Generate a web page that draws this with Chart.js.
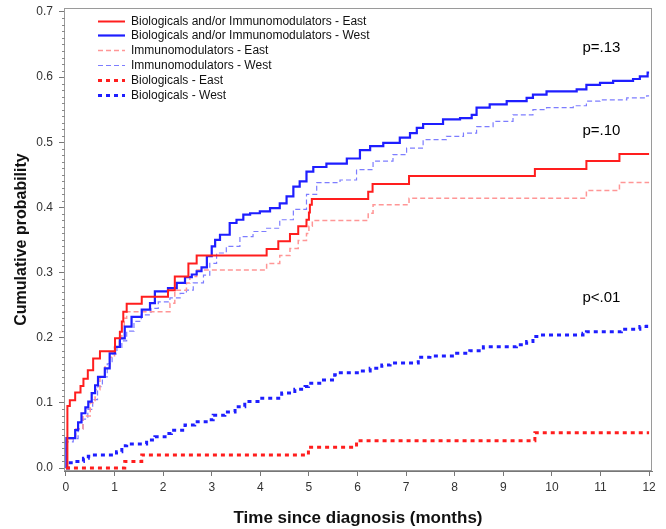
<!DOCTYPE html>
<html>
<head>
<meta charset="utf-8">
<script src="https://cdn.jsdelivr.net/npm/chart.js@4/dist/chart.umd.min.js"></script>
<style>
  html, body { margin: 0; padding: 0; background: #fff; }
  #wrap { width: 666px; height: 529px; }
</style>
</head>
<body>
<div id="wrap"><canvas id="cumChart"></canvas></div>
<script>
// Cumulative probability of treatment start, by months since diagnosis
const xTicks = [0, 1, 2, 3, 4, 5, 6, 7, 8, 9, 10, 11, 12];
const yTicks = [0, 0.1, 0.2, 0.3, 0.4, 0.5, 0.6, 0.7];

// Biologicals and/or Immunomodulators - East
const bioImmEastT = [0, 0.03, 0.08, 0.19, 0.3, 0.36, 0.45, 0.56, 0.7, 1.01, 1.11, 1.15, 1.18, 1.25, 1.56, 2.1, 2.24, 2.52, 2.69, 4.13, 4.37, 4.61, 4.78, 4.95, 5.0, 5.02, 5.06, 6.22, 6.31, 7.06, 9.65, 10.71, 11.39, 12];
const bioImmEastP = [0, 0.095, 0.104, 0.116, 0.126, 0.137, 0.15, 0.168, 0.179, 0.199, 0.209, 0.225, 0.24, 0.252, 0.263, 0.273, 0.294, 0.314, 0.326, 0.336, 0.348, 0.359, 0.371, 0.381, 0.392, 0.404, 0.413, 0.424, 0.436, 0.448, 0.459, 0.471, 0.482, 0.482];

// Biologicals and/or Immunomodulators - West
const bioImmWestT = [0, 0.01, 0.12, 0.19, 0.25, 0.32, 0.4, 0.46, 0.53, 0.6, 0.66, 0.8, 0.9, 1.01, 1.11, 1.21, 1.35, 1.56, 1.73, 1.83, 2.1, 2.28, 2.45, 2.59, 2.69, 2.79, 2.9, 3.0, 3.07, 3.17, 3.37, 3.51, 3.65, 3.79, 3.99, 4.2, 4.4, 4.54, 4.68, 4.81, 4.95, 5.09, 5.36, 5.78, 6.05, 6.26, 6.53, 6.87, 7.08, 7.22, 7.35, 7.76, 8.11, 8.35, 8.45, 8.72, 9.07, 9.48, 9.61, 9.89, 10.51, 10.71, 10.99, 11.26, 11.67, 11.81, 11.97, 12];
const bioImmWestP = [0, 0.046, 0.046, 0.058, 0.07, 0.084, 0.093, 0.102, 0.115, 0.127, 0.14, 0.153, 0.176, 0.186, 0.199, 0.217, 0.232, 0.243, 0.253, 0.271, 0.276, 0.284, 0.293, 0.297, 0.302, 0.308, 0.325, 0.34, 0.35, 0.358, 0.376, 0.381, 0.389, 0.391, 0.394, 0.399, 0.406, 0.417, 0.432, 0.44, 0.455, 0.462, 0.467, 0.475, 0.488, 0.494, 0.499, 0.507, 0.514, 0.522, 0.528, 0.535, 0.537, 0.542, 0.553, 0.558, 0.563, 0.568, 0.573, 0.578, 0.581, 0.588, 0.591, 0.594, 0.597, 0.601, 0.607, 0.607];

// Immunomodulators - East
const immEastT = [0, 0.02, 0.2, 0.35, 0.5, 0.6, 0.7, 0.8, 0.9, 1.0, 1.1, 1.15, 1.2, 1.25, 2.14, 2.24, 2.48, 2.55, 2.69, 4.13, 4.4, 4.61, 4.78, 4.95, 5.0, 5.07, 6.22, 6.32, 7.06, 10.71, 11.39, 12];
const immEastP = [0, 0.045, 0.06, 0.08, 0.1, 0.12, 0.14, 0.155, 0.17, 0.185, 0.2, 0.215, 0.23, 0.24, 0.253, 0.273, 0.284, 0.294, 0.304, 0.314, 0.326, 0.337, 0.349, 0.36, 0.371, 0.38, 0.391, 0.404, 0.414, 0.426, 0.438, 0.438];

// Immunomodulators - West
const immWestT = [0, 0.01, 0.15, 0.25, 0.35, 0.45, 0.55, 0.65, 0.75, 0.85, 0.95, 1.05, 1.15, 1.25, 1.4, 1.55, 1.75, 1.9, 2.14, 2.35, 2.48, 2.62, 2.83, 2.96, 3.1, 3.3, 3.58, 3.85, 4.13, 4.4, 4.68, 4.95, 5.16, 5.64, 5.98, 6.32, 6.73, 7.01, 7.35, 7.83, 8.18, 8.45, 8.79, 9.2, 9.61, 9.89, 10.44, 10.71, 10.99, 11.54, 11.95, 12];
const immWestP = [0, 0.04, 0.045, 0.06, 0.075, 0.09, 0.105, 0.125, 0.14, 0.16, 0.175, 0.185, 0.195, 0.21, 0.225, 0.235, 0.245, 0.255, 0.261, 0.268, 0.273, 0.284, 0.296, 0.314, 0.33, 0.34, 0.355, 0.363, 0.368, 0.381, 0.397, 0.42, 0.438, 0.442, 0.458, 0.471, 0.481, 0.491, 0.504, 0.509, 0.514, 0.524, 0.532, 0.542, 0.55, 0.553, 0.556, 0.563, 0.565, 0.568, 0.571, 0.571];

// Biologicals - East
const bioEastT = [0, 1.21, 1.56, 4.99, 5.98, 9.65, 12];
const bioEastP = [0, 0.01, 0.02, 0.032, 0.042, 0.054, 0.054];

// Biologicals - West
const bioWestT = [0, 0.05, 0.19, 0.36, 0.46, 0.55, 1.04, 1.15, 1.25, 1.66, 1.83, 2.04, 2.17, 2.45, 2.65, 2.93, 3.03, 3.27, 3.48, 3.68, 4.03, 4.44, 4.71, 4.92, 4.99, 5.26, 5.53, 5.6, 6.05, 6.26, 6.5, 6.67, 7.25, 7.49, 8.04, 8.31, 8.59, 9.27, 9.48, 9.61, 9.75, 10.64, 10.71, 11.43, 11.81, 11.95, 12];
const bioWestP = [0, 0.008, 0.01, 0.015, 0.018, 0.02, 0.025, 0.034, 0.037, 0.043, 0.048, 0.053, 0.058, 0.066, 0.071, 0.074, 0.081, 0.086, 0.094, 0.102, 0.107, 0.115, 0.121, 0.125, 0.13, 0.135, 0.143, 0.146, 0.149, 0.153, 0.158, 0.161, 0.17, 0.172, 0.176, 0.18, 0.186, 0.189, 0.194, 0.202, 0.204, 0.207, 0.209, 0.213, 0.217, 0.221, 0.221];

// p-value labels: text, month, probability
const pLabels = ['p=.13', 'p=.10', 'p<.01'];
const pLabelX = [11.02, 11.02, 11.02];
const pLabelY = [0.645, 0.518, 0.261];

const toPoints = (t, p) => t.map((x, i) => ({ x: x, y: p[i] }));

const series = [
    { label: 'Biologicals and/or Immunomodulators - East', t: bioImmEastT, p: bioImmEastP, color: 'rgb(255, 30, 30)', width: 2, dash: [] },
    { label: 'Biologicals and/or Immunomodulators - West', t: bioImmWestT, p: bioImmWestP, color: 'rgb(30, 30, 255)', width: 2.2, dash: [] },
    { label: 'Immunomodulators - East', t: immEastT, p: immEastP, color: 'rgb(255, 150, 150)', width: 1.5, dash: [5, 3] },
    { label: 'Immunomodulators - West', t: immWestT, p: immWestP, color: 'rgb(125, 125, 255)', width: 1.2, dash: [5, 3] },
    { label: 'Biologicals - East', t: bioEastT, p: bioEastP, color: 'rgb(255, 30, 30)', width: 3, dash: [4, 4] },
    { label: 'Biologicals - West', t: bioWestT, p: bioWestP, color: 'rgb(30, 30, 255)', width: 3, dash: [4, 4] }
];

// Box around the plot, minor y ticks, legend and p-values
const decorations = {
    id: 'decorations',
    afterDraw(chart) {
        const { ctx, chartArea: a, scales } = chart;
        ctx.save();
        ctx.strokeStyle = '#9a9a9a';
        ctx.lineWidth = 1;
        ctx.strokeRect(a.left + 0.5, a.top + 0.5, a.right - a.left - 1, a.bottom - a.top - 1);

        // minor ticks on the y axis
        ctx.strokeStyle = '#888';
        for (let i = 1; i < 70; i++) {
            if (i % 10 === 0) continue;
            const y = Math.round(scales.y.getPixelForValue(i / 100)) + 0.5;
            ctx.beginPath();
            ctx.moveTo(a.left - 2, y);
            ctx.lineTo(a.left + 1, y);
            ctx.stroke();
        }

        // legend
        ctx.font = '12px "Liberation Sans", Arial, sans-serif';
        ctx.textBaseline = 'middle';
        ctx.fillStyle = '#111';
        series.forEach((s, i) => {
            const y = Math.round(20.5 + i * 14.9) + 0.5;
            ctx.strokeStyle = s.color;
            ctx.lineWidth = s.width;
            ctx.setLineDash(s.dash);
            ctx.beginPath();
            ctx.moveTo(98, y);
            ctx.lineTo(125, y);
            ctx.stroke();
            ctx.setLineDash([]);
            ctx.fillText(s.label, 131, y);
        });

        // p-values
        ctx.font = '15px "Liberation Sans", Arial, sans-serif';
        ctx.textAlign = 'center';
        ctx.fillStyle = '#000';
        pLabels.forEach((txt, i) => {
            ctx.fillText(txt, scales.x.getPixelForValue(pLabelX[i]), scales.y.getPixelForValue(pLabelY[i]));
        });
        ctx.restore();
    }
};

const ctx = document.getElementById('cumChart').getContext('2d');
new Chart(ctx, {
    type: 'line',
    data: {
        datasets: series.map(s => ({
            label: s.label,
            data: toPoints(s.t, s.p),
            borderColor: s.color,
            borderWidth: s.width,
            borderDash: s.dash,
            stepped: true,
            pointRadius: 0,
            fill: false
        }))
    },
    options: {
        responsive: true,
        maintainAspectRatio: false,
        animation: false,
        layout: { padding: { top: 8, right: 14, left: 0, bottom: 0 } },
        plugins: {
            legend: { display: false },
            tooltip: { enabled: false }
        },
        scales: {
            x: {
                type: 'linear',
                min: -0.04,
                max: 12.06,
                afterBuildTicks: scale => { scale.ticks = xTicks.map(v => ({ value: v })); },
                afterFit: scale => { scale.height = 58; },
                ticks: {
                    color: '#333',
                    font: { family: '"Liberation Sans", Arial, sans-serif', size: 12 },
                    padding: 4,
                    maxRotation: 0,
                    callback: v => String(v)
                },
                grid: { drawOnChartArea: false, drawTicks: true, tickLength: 5, color: '#777' },
                border: { color: '#777' },
                title: {
                    display: true,
                    text: 'Time since diagnosis (months)',
                    color: '#111',
                    font: { family: '"Liberation Sans", Arial, sans-serif', size: 17, weight: 'bold' },
                    padding: { top: 4, bottom: 0 }
                }
            },
            y: {
                type: 'linear',
                min: -0.0046,
                max: 0.706,
                afterBuildTicks: scale => { scale.ticks = yTicks.map(v => ({ value: v })); },
                afterFit: scale => {
                    scale.width = 64;
                    scale.paddingTop = 0;
                    scale.paddingBottom = 0;
                },
                ticks: {
                    color: '#333',
                    font: { family: '"Liberation Sans", Arial, sans-serif', size: 12 },
                    padding: 6,
                    callback: v => Number(v).toFixed(1)
                },
                grid: { drawOnChartArea: false, drawTicks: true, tickLength: 5, color: '#777' },
                border: { color: '#777' },
                title: {
                    display: true,
                    text: 'Cumulative probability',
                    color: '#111',
                    font: { family: '"Liberation Sans", Arial, sans-serif', size: 16, weight: 'bold' },
                    padding: { top: 12, bottom: 4 }
                }
            }
        }
    },
    plugins: [decorations]
});
</script>
</body>
</html>
